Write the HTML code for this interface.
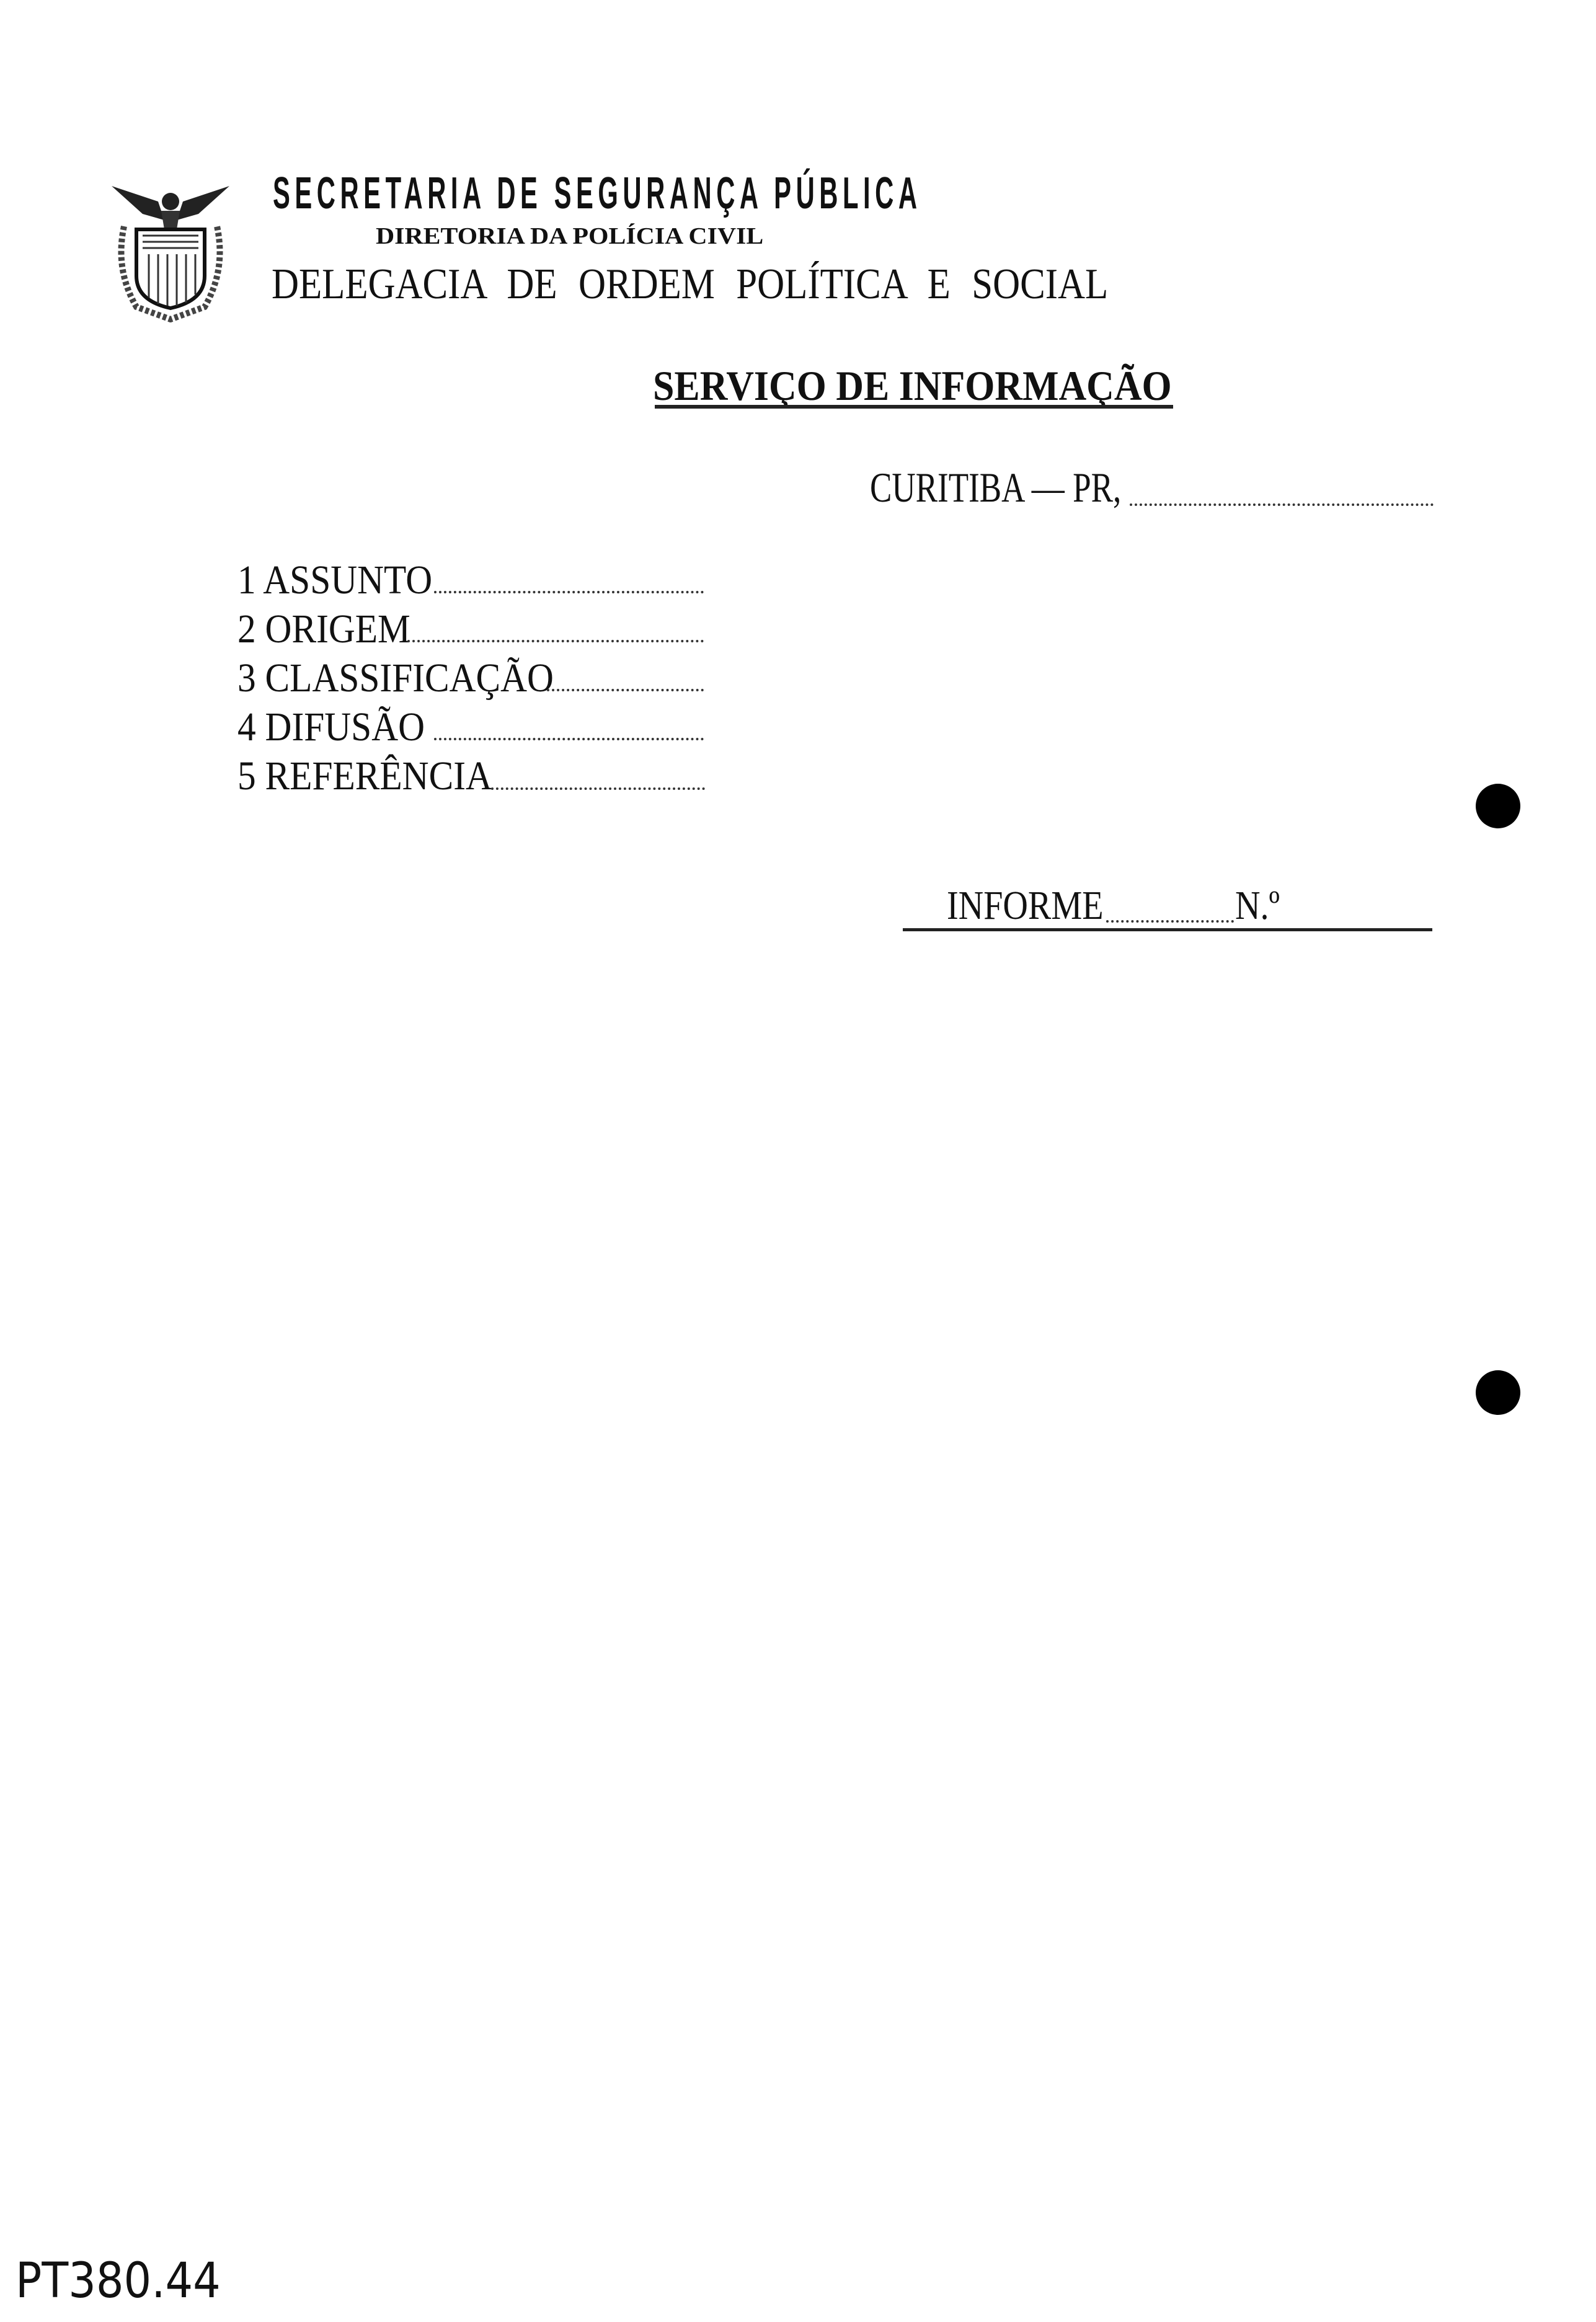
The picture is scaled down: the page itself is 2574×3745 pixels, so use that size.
<!DOCTYPE html>
<html><head><meta charset="utf-8"><style>
body{margin:0;width:2574px;height:3745px;background:#fff;position:relative;overflow:hidden;font-family:"Liberation Serif",serif;color:#111}
.t{position:absolute;white-space:nowrap;line-height:1;transform-origin:0 0}
.dots{position:absolute;border-bottom:4px dotted #333}
</style></head><body>
<svg style="position:absolute;left:175px;top:285px" width="200" height="235" viewBox="0 0 200 235">
<path d="M5 15 L80 40 L90 70 L55 60 Z" fill="#222"/>
<path d="M195 15 L120 40 L110 70 L145 60 Z" fill="#222"/>
<circle cx="100" cy="40" r="14" fill="#222"/>
<path d="M85 55 L115 55 L110 85 L90 85 Z" fill="#333"/>
<path d="M45 85 L155 85 L155 160 Q155 200 100 212 Q45 200 45 160 Z" fill="none" stroke="#111" stroke-width="6"/>
<g stroke="#333" stroke-width="3">
<line x1="55" y1="95" x2="145" y2="95"/><line x1="55" y1="105" x2="145" y2="105"/><line x1="55" y1="115" x2="145" y2="115"/>
<line x1="65" y1="125" x2="65" y2="195"/><line x1="80" y1="125" x2="80" y2="205"/><line x1="95" y1="125" x2="95" y2="208"/><line x1="110" y1="125" x2="110" y2="208"/><line x1="125" y1="125" x2="125" y2="203"/><line x1="140" y1="125" x2="140" y2="190"/>
</g>
<path d="M25 80 Q10 150 45 210 L100 230 L155 210 Q190 150 175 80" fill="none" stroke="#444" stroke-width="10" stroke-dasharray="6 4"/>
</svg>
<div class="t" style="left:440px;top:276px;font-size:72px;font-weight:bold;font-family:'Liberation Sans Narrow','Liberation Sans',sans-serif;letter-spacing:13px;transform:scaleX(0.58)">SECRETARIA DE SEGURANÇA PÚBLICA</div>
<div class="t" style="left:606px;top:362px;font-size:38px;font-weight:bold;transform:scaleX(1.10)">DIRETORIA DA POLÍCIA CIVIL</div>
<div class="t" style="left:438px;top:424px;font-size:70px;word-spacing:22px;transform:scaleX(0.87)">DELEGACIA DE ORDEM POLÍTICA E SOCIAL</div>
<div class="t" style="left:1053px;top:588px;font-size:68px;font-weight:bold;transform:scaleX(0.91)">SERVIÇO DE INFORMAÇÃO</div>
<div style="position:absolute;left:1056px;top:653px;width:836px;height:6px;background:#222"></div>
<div class="t" style="left:1403px;top:752px;font-size:68px;transform:scaleX(0.78)">CURITIBA — PR,</div>
<div class="dots" style="left:1822px;top:812px;width:490px"></div>
<div class="t" style="left:383px;top:903px;font-size:66px;transform:scaleX(0.90)">1 ASSUNTO</div>
<div class="dots" style="left:700px;top:953px;width:435px"></div>
<div class="t" style="left:383px;top:982px;font-size:66px;transform:scaleX(0.90)">2 ORIGEM</div>
<div class="dots" style="left:657px;top:1032px;width:478px"></div>
<div class="t" style="left:383px;top:1061px;font-size:66px;transform:scaleX(0.90)">3 CLASSIFICAÇÃO</div>
<div class="dots" style="left:882px;top:1111px;width:253px"></div>
<div class="t" style="left:383px;top:1140px;font-size:66px;transform:scaleX(0.90)">4 DIFUSÃO</div>
<div class="dots" style="left:700px;top:1190px;width:435px"></div>
<div class="t" style="left:383px;top:1219px;font-size:66px;transform:scaleX(0.90)">5 REFERÊNCIA</div>
<div class="dots" style="left:792px;top:1270px;width:345px"></div>
<div class="t" style="left:1527px;top:1428px;font-size:66px;transform:scaleX(0.85)">INFORME</div>
<div class="dots" style="left:1784px;top:1484px;width:206px"></div>
<div class="t" style="left:1992px;top:1428px;font-size:66px;transform:scaleX(0.85)">N.º</div>
<div style="position:absolute;left:1456px;top:1497px;width:854px;height:5px;background:#222"></div>
<div style="position:absolute;left:2380px;top:1264px;width:72px;height:72px;border-radius:50%;background:#000"></div>
<div style="position:absolute;left:2380px;top:2210px;width:72px;height:72px;border-radius:50%;background:#000"></div>
<div class="t" style="left:25px;top:3640px;font-size:78px;font-family:'DejaVu Sans',sans-serif;transform:scaleX(0.9)">PT380.44</div>
</body></html>
